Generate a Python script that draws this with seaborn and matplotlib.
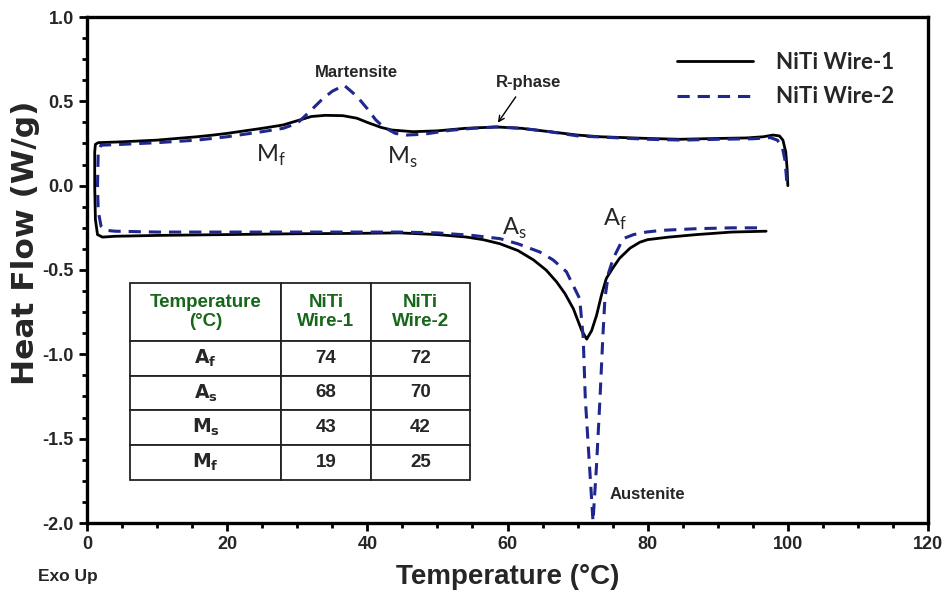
import matplotlib
matplotlib.use("Agg")
import matplotlib.pyplot as plt
import seaborn as sns
import pandas as pd
from matplotlib.ticker import MultipleLocator

# ---------------- data ----------------
# Wire-1: one continuous loop path (heating branch right->left, then cooling branch left->right)
wire1_x = [96.9, 92, 87, 83, 80, 78.9, 77.5, 76, 75, 74.1, 73.4, 72.7, 72, 71.3, 70.6, 69.4, 68.2, 67,
           65.5, 63.7, 61.5, 58.9, 56.5, 54.2, 50, 44.6, 38, 30, 20, 10, 4, 2.2, 1.5, 1.2, 1.1, 1.1, 1.2,
           1.6, 5, 10, 15.7, 18, 20, 25, 28, 30.4, 32, 34, 36.5, 38.5, 40, 42, 43.5, 46.5, 50, 54, 58.4,
           62, 66, 70, 73.2, 80, 84.6, 90, 94.1, 96.5, 97.9, 98.8, 99.3, 99.7, 99.9, 100.0]
wire1_y = [-0.27, -0.275, -0.29, -0.305, -0.32, -0.335, -0.37, -0.43, -0.49, -0.55, -0.65, -0.77, -0.86,
           -0.91, -0.86, -0.73, -0.64, -0.57, -0.50, -0.44, -0.385, -0.344, -0.32, -0.305, -0.29, -0.28,
           -0.283, -0.285, -0.29, -0.295, -0.30, -0.305, -0.29, -0.2, 0.0, 0.2, 0.245, 0.255, 0.26, 0.27,
           0.29, 0.30, 0.31, 0.34, 0.36, 0.39, 0.41, 0.417, 0.415, 0.40, 0.375, 0.345, 0.33, 0.32, 0.325,
           0.34, 0.348, 0.34, 0.32, 0.30, 0.29, 0.28, 0.275, 0.28, 0.283, 0.29, 0.30, 0.295, 0.27, 0.2,
           0.1, 0.0]

# Wire-2: same kind of loop path
wire2_x = [95.6, 92, 87, 82, 79.8, 78, 76.5, 75.1, 74.4, 73.9, 73.6, 73.2, 72.7, 72.2, 71.7, 71.1, 70.8,
           70.3, 68.4, 66.5, 64.6, 61.5, 58.9, 55, 50, 44.6, 33, 20, 10, 4, 2.8, 2.0, 1.6, 1.5, 1.6, 2.0,
           5, 10, 15.7, 20, 25, 28, 30, 31.8, 33.5, 35, 36.7, 38.5, 40, 41.2, 42.3, 44, 45.6, 48, 51.8,
           55, 58.4, 62, 66, 70, 75, 80, 85, 90, 95, 97.5, 98.5, 99.2, 99.6, 99.9]
wire2_y = [-0.25, -0.25, -0.255, -0.265, -0.275, -0.29, -0.314, -0.43, -0.52, -0.67, -0.9, -1.26, -1.66,
           -1.99, -1.66, -1.26, -0.9, -0.67, -0.51, -0.44, -0.393, -0.345, -0.314, -0.295, -0.28, -0.275,
           -0.275, -0.275, -0.275, -0.27, -0.265, -0.24, -0.15, 0.0, 0.2, 0.24, 0.245, 0.255, 0.27, 0.29,
           0.32, 0.34, 0.37, 0.44, 0.51, 0.56, 0.595, 0.53, 0.456, 0.39, 0.348, 0.31, 0.30, 0.305, 0.328,
           0.34, 0.348, 0.34, 0.32, 0.295, 0.285, 0.275, 0.27, 0.275, 0.278, 0.285, 0.27, 0.23, 0.15, 0.0]

series_names = ["NiTi Wire-1", "NiTi Wire-2"]

table_header = ["Temperature\n(°C)", "NiTi\nWire-1", "NiTi\nWire-2"]
table_params = [r"$\mathbf{A_f}$", r"$\mathbf{A_s}$", r"$\mathbf{M_s}$", r"$\mathbf{M_f}$"]
wire1_temps = [74, 68, 43, 19]
wire2_temps = [72, 70, 42, 25]

# ---------------- figure ----------------
sns.set_style("ticks")
plt.rcParams["font.family"] = ["DejaVu Sans"]
plt.rcParams["axes.unicode_minus"] = False
NARROW = ["Liberation Sans Narrow", "Liberation Sans", "DejaVu Sans"]

fig = plt.figure(figsize=(9.44, 5.93), dpi=100)
ax = fig.add_axes([87 / 944, 1 - 523 / 593, 841 / 944, 506 / 593])

df1 = pd.DataFrame({"x": wire1_x, "y": wire1_y})
df2 = pd.DataFrame({"x": wire2_x, "y": wire2_y})
sns.lineplot(data=df1, x="x", y="y", sort=False, estimator=None, ax=ax,
             color="black", lw=2.0, label=series_names[0])
sns.lineplot(data=df2, x="x", y="y", sort=False, estimator=None, ax=ax,
             color="#1f268c", lw=2.2, linestyle=(0, (4, 2.6)), label=series_names[1])

ax.set_xlim(0, 120)
ax.set_ylim(-2.0, 1.0)
ax.xaxis.set_major_locator(MultipleLocator(20))
ax.xaxis.set_minor_locator(MultipleLocator(5))
ax.yaxis.set_major_locator(MultipleLocator(0.5))
ax.yaxis.set_minor_locator(MultipleLocator(0.125))
ax.tick_params(which="major", direction="out", length=6, width=2, color="black")
ax.tick_params(which="minor", direction="out", length=3.5, width=2, color="black")
for s in ax.spines.values():
    s.set_linewidth(2.4)
    s.set_color("black")
    s.set_visible(True)

for lab in ax.get_xticklabels() + ax.get_yticklabels():
    lab.set_fontfamily(NARROW)
    lab.set_fontweight("bold")
    lab.set_fontsize(13)

ax.set_xlabel("Temperature (°C)", fontsize=20, fontweight="bold", family=NARROW)
ax.xaxis.set_label_coords(0.50, -0.082)
ax.set_ylabel("Heat Flow (W/g)", fontsize=22.5, fontweight="bold", family=["DejaVu Sans"])
ax.yaxis.set_label_coords(-0.056, 0.553)

fig.text(68 / 944, 1 - 577 / 593, "Exo Up", ha="center", va="center",
         fontsize=12.5, fontweight="bold", family=NARROW)

# legend
leg = ax.legend(loc="upper left", frameon=False, handlelength=3.4, handletextpad=1.05,
                labelspacing=0.6, borderpad=0, borderaxespad=0,
                bbox_to_anchor=((677 - 87) / 841, (523 - 52) / 506),
                prop={"family": ["Lato", "DejaVu Sans"], "weight": "bold", "size": 16})

# annotations
ax.text(38.5, 0.67, "Martensite", ha="center", va="center", fontsize=12, fontweight="bold", family=NARROW)
ax.text(63.0, 0.61, "R-phase", ha="center", va="center", fontsize=12, fontweight="bold", family=NARROW)
ax.annotate("", xy=(58.4, 0.36), xytext=(61.4, 0.54),
            arrowprops=dict(arrowstyle="->", color="black", lw=1.0))
ax.text(80.0, -1.83, "Austenite", ha="center", va="center", fontsize=12, fontweight="bold", family=NARROW)

lbl_font = {"family": ["Lato", "DejaVu Sans"], "fontsize": 17}
ax.text(26.3, 0.18, r"M$_\mathregular{f}$", ha="center", va="center", **lbl_font)
ax.text(45.0, 0.165, r"M$_\mathregular{s}$", ha="center", va="center", **lbl_font)
ax.text(61.0, -0.255, r"A$_\mathregular{s}$", ha="center", va="center", **lbl_font)
ax.text(75.4, -0.2, r"A$_\mathregular{f}$", ha="center", va="center", **lbl_font)

# table
cell_text = [[p, str(a), str(b)] for p, a, b in zip(table_params, wire1_temps, wire2_temps)]
tbl = ax.table(cellText=cell_text, colLabels=table_header, cellLoc="center",
               bbox=[43 / 841, 43 / 506, 340 / 841, 197 / 506])
tbl.auto_set_font_size(False)
col_w = [151, 90, 99]
for (r, c), cell in tbl.get_celld().items():
    cell.set_linewidth(1.3)
    cell.set_edgecolor("#222222")
    cell.set_width(col_w[c])
    cell.set_height(58 if r == 0 else 35)
    t = cell.get_text()
    t.set_fontweight("bold")
    t.set_fontsize(13.5)
    t.set_fontfamily(NARROW)
    if r == 0:
        t.set_color("#17661a")
        t.set_linespacing(1.1)

fig.savefig("out.png", dpi=100)
